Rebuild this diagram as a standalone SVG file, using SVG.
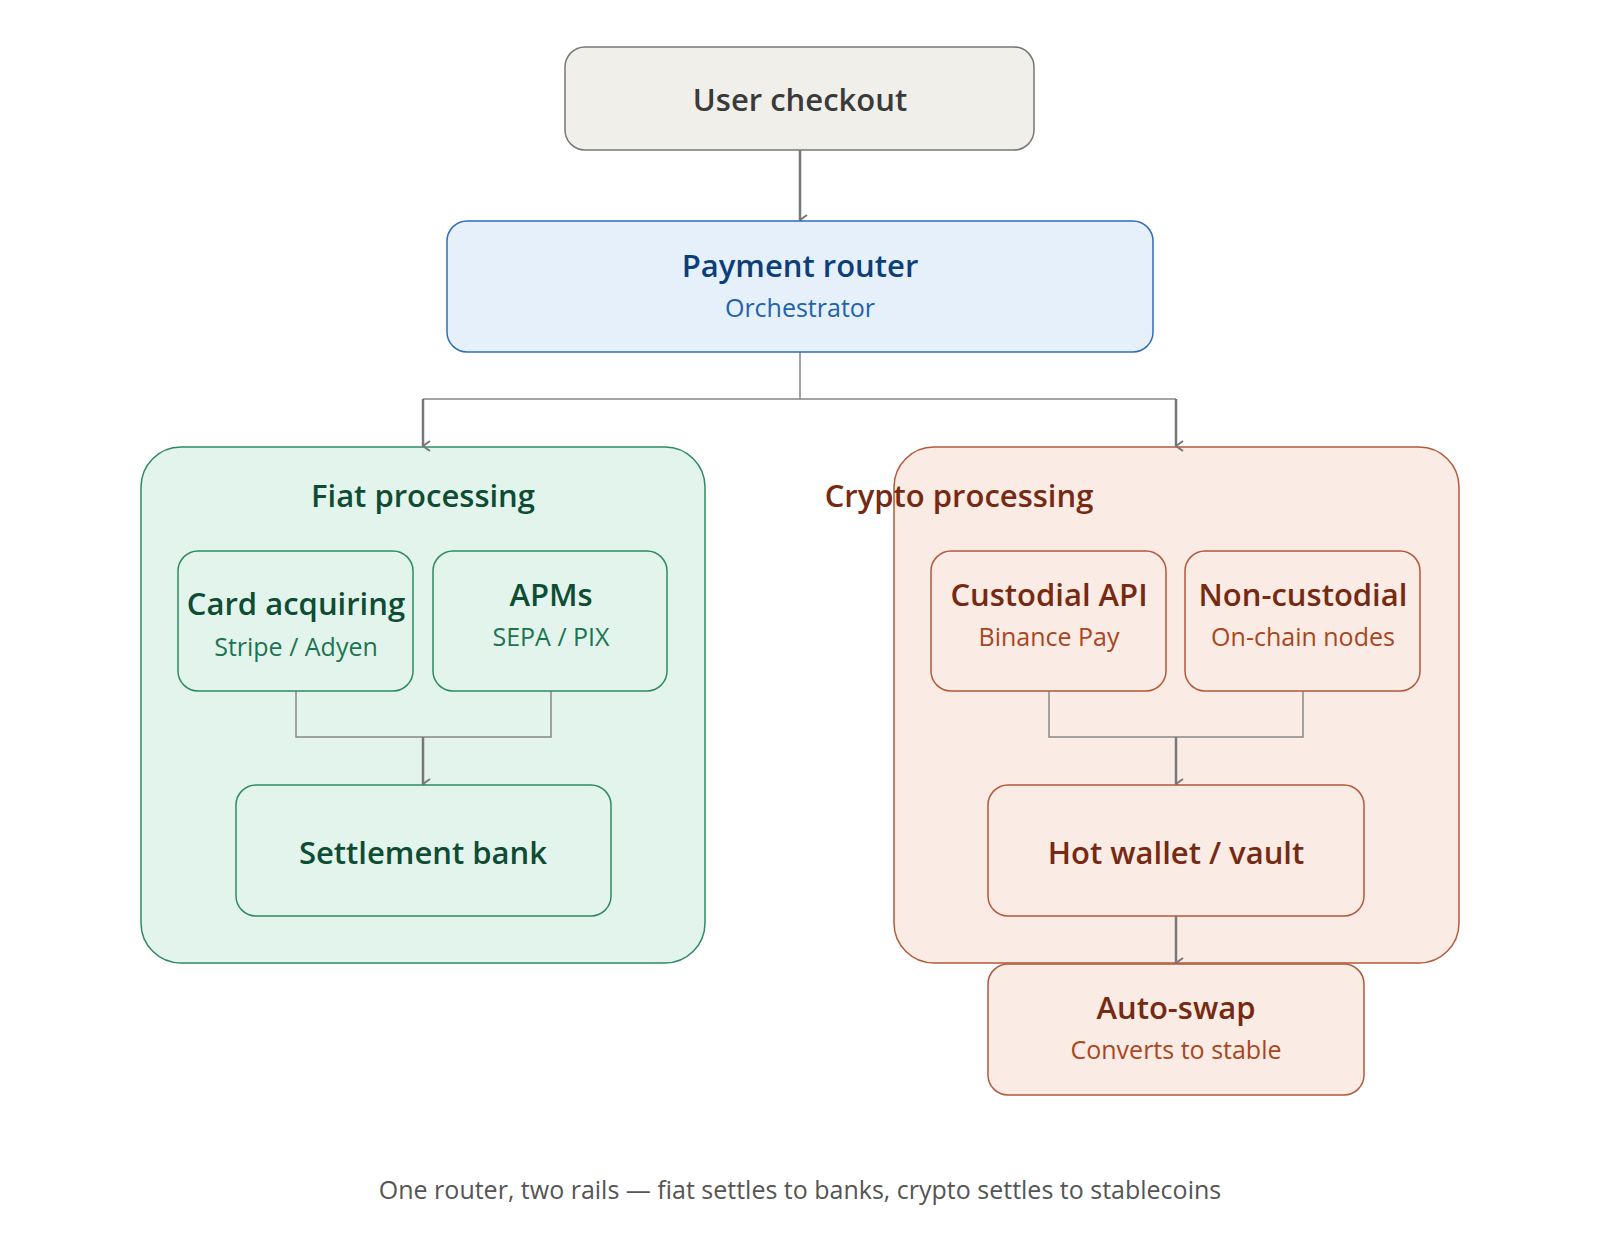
<svg xmlns="http://www.w3.org/2000/svg" width="1600" height="1244" viewBox="0 0 1600 1244">
<defs>
<marker id="ah" viewBox="0 0 12 12" refX="6" refY="11" markerWidth="12" markerHeight="12" markerUnits="userSpaceOnUse" orient="auto-start-reverse"><path d="M1,4 L6,11 L11,4" fill="none" stroke="#777" stroke-width="2"/></marker>
<style>
text{font-family:"Open Sans","Noto Sans",sans-serif;text-anchor:middle}
.t{font-size:31px;font-weight:600}
.s{font-size:25px}
.g rect{fill:#e2f4ec;stroke:#2f8a62;stroke-width:1.5}
.g text{fill:#0e4d33}
.g .s{fill:#1d7550}
.c rect{fill:#fbebe5;stroke:#b35a3b;stroke-width:1.5}
.c text{fill:#762a12}
.c .s{fill:#a8461f}
.ln{fill:none;stroke:#888;stroke-width:1.5}
.ar{fill:none;stroke:#777;stroke-width:2.5;marker-end:url(#ah)}
</style>
</defs>
<rect width="1600" height="1244" fill="#fff"/>
<g id="fiat" class="g"><rect x="141" y="447" width="564" height="516" rx="40"/><text class="t" x="423" y="507">Fiat processing</text></g>
<g id="crypto" class="c"><rect x="894" y="447" width="565" height="516" rx="40"/><text class="t" x="959" y="507">Crypto processing</text></g>
<g id="connectors">
<path class="ar" d="M800,150 V220"/>
<path class="ln" d="M800,352 V399 M423,399 H1176"/>
<path class="ar" d="M423,399 V446"/>
<path class="ar" d="M1176,399 V446"/>
<path class="ln" d="M296,691 V737 H551 V691"/>
<path class="ar" d="M423,737 V784"/>
<path class="ln" d="M1049,691 V737 H1303 V691"/>
<path class="ar" d="M1176,737 V784"/>
<path class="ar" d="M1176,916 V963"/>
</g>
<g id="checkout"><rect x="565" y="47" width="469" height="103" rx="20" fill="#f0efea" stroke="#777" stroke-width="1.5"/><text class="t" x="800" y="111" fill="#3a3a3a" font-weight="500">User checkout</text></g>
<g id="router"><rect x="447" y="221" width="706" height="131" rx="20" fill="#e6f0fb" stroke="#2f6db5" stroke-width="1.5"/><text class="t" x="800" y="277" fill="#0c3f7a">Payment router</text><text class="s" x="800" y="317" fill="#1f63ad">Orchestrator</text></g>
<g id="card" class="g"><rect x="178" y="551" width="235" height="140" rx="20"/><text class="t" x="296" y="615">Card acquiring</text><text class="s" x="296" y="656">Stripe / Adyen</text></g>
<g id="apms" class="g"><rect x="433" y="551" width="234" height="140" rx="20"/><text class="t" x="551" y="606">APMs</text><text class="s" x="551" y="646">SEPA / PIX</text></g>
<g id="settlement" class="g"><rect x="236" y="785" width="375" height="131" rx="20"/><text class="t" x="423" y="864">Settlement bank</text></g>
<g id="custodial" class="c"><rect x="931" y="551" width="235" height="140" rx="20"/><text class="t" x="1049" y="606">Custodial API</text><text class="s" x="1049" y="646">Binance Pay</text></g>
<g id="noncustodial" class="c"><rect x="1185" y="551" width="235" height="140" rx="20"/><text class="t" x="1303" y="606">Non-custodial</text><text class="s" x="1303" y="646">On-chain nodes</text></g>
<g id="hotwallet" class="c"><rect x="988" y="785" width="376" height="131" rx="20"/><text class="t" x="1176" y="864">Hot wallet / vault</text></g>
<g id="autoswap" class="c"><rect x="988" y="964" width="376" height="131" rx="20"/><text class="t" x="1176" y="1019">Auto-swap</text><text class="s" x="1176" y="1059">Converts to stable</text></g>
<text x="800" y="1199" font-size="25" fill="#555">One router, two rails — fiat settles to banks, crypto settles to stablecoins</text>
</svg>
